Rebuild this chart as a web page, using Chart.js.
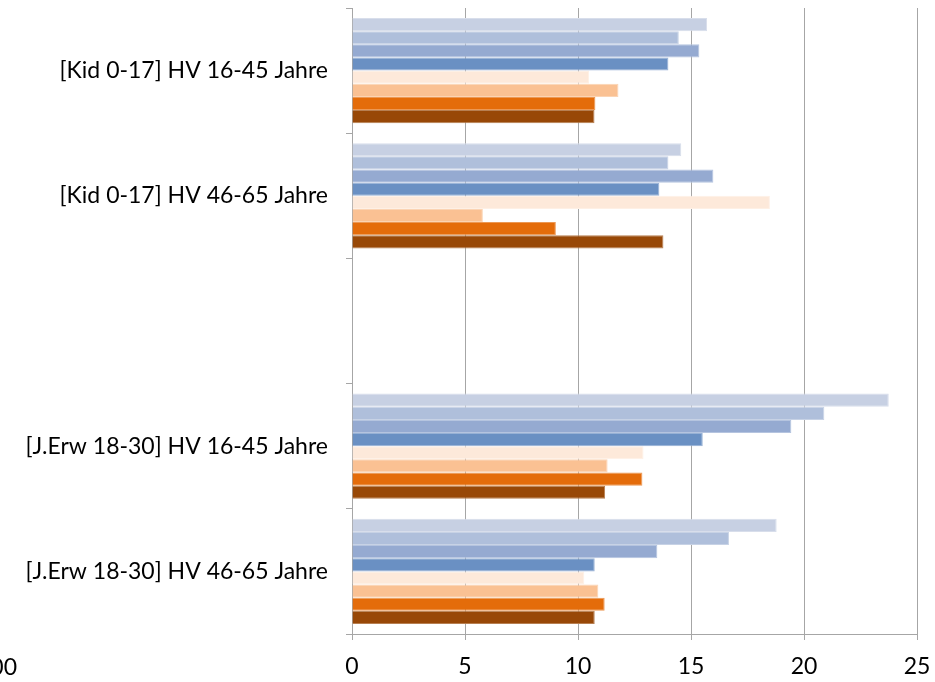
<!DOCTYPE html>
<html>
<head>
<meta charset="utf-8">
<script src="https://cdn.jsdelivr.net/npm/chart.js@4/dist/chart.umd.min.js"></script>
<style>
  html, body { margin: 0; padding: 0; background: #fff; overflow: hidden; }
  #wrap { position: relative; width: 935px; height: 682px; overflow: hidden; }
  #cut { position: absolute; right: 918px; top: 653px; font: 23px Lato, "Open Sans", sans-serif; line-height: 27.6px; color: #000; white-space: nowrap; }
</style>
</head>
<body>
<div id="wrap">
  <canvas id="c" width="935" height="682"></canvas>
  <div id="cut">100</div>
</div>
<script>
const categories = [
  '[Kid 0-17] HV 16-45 Jahre',
  '[Kid 0-17] HV 46-65 Jahre',
  '',
  '[J.Erw 18-30] HV 16-45 Jahre',
  '[J.Erw 18-30] HV 46-65 Jahre'
];
const seriesNames = ['Serie 1', 'Serie 2', 'Serie 3', 'Serie 4', 'Serie 5', 'Serie 6', 'Serie 7', 'Serie 8'];
const s1 = [15.71, 14.57, null, 23.75, 18.79];
const s2 = [14.46, 14.00, null, 20.90, 16.68];
const s3 = [15.37, 15.99, null, 19.44, 13.51];
const s4 = [14.00, 13.60, null, 15.52, 10.74];
const s5 = [10.49, 18.49, null, 12.90, 10.28];
const s6 = [11.79, 5.79, null, 11.31, 10.90];
const s7 = [10.77, 9.02, null, 12.85, 11.18];
const s8 = [10.73, 13.78, null, 11.20, 10.74];
const xTicks = [0, 5, 10, 15, 20, 25];

const colors = ['#C7D0E3', '#AFBFDB', '#95AAD1', '#6A90C3', '#FDE9DA', '#FAC193', '#E46C0A', '#984807'];
const edgeColors = ['#D8DEEB', '#C7D2E5', '#B5C4DF', '#97B1D5', '#FEF0E5', '#FBD4B4', '#EC9854', '#B77F51'];
const seriesData = [s1, s2, s3, s4, s5, s6, s7, s8];

const FONT = { family: 'Lato, "Open Sans", sans-serif', size: 23 };

new Chart(document.getElementById('c'), {
  type: 'bar',
  data: {
    labels: categories,
    datasets: seriesData.map((d, i) => ({
      label: seriesNames[i],
      data: d,
      backgroundColor: colors[i],
      borderColor: edgeColors[i],
      borderWidth: 1,
      categoryPercentage: 0.84,
      barPercentage: 1.0
    }))
  },
  options: {
    indexAxis: 'y',
    responsive: false,
    animation: false,
    devicePixelRatio: 1,
    layout: { padding: { left: 0, right: 18, top: 8, bottom: 0 } },
    plugins: { legend: { display: false }, tooltip: { enabled: false } },
    scales: {
      x: {
        min: xTicks[0],
        max: xTicks[xTicks.length - 1],
        afterBuildTicks: (axis) => { axis.ticks = xTicks.map(v => ({ value: v })); },
        ticks: { color: '#000', font: FONT, padding: 13, maxRotation: 0 },
        grid: { color: '#A6A6A6', lineWidth: 1, tickLength: 6, drawTicks: true },
        border: { display: true, color: '#A6A6A6', width: 1 },
        afterFit: (axis) => { axis.height = 48; axis.paddingLeft = 0; axis.paddingRight = 0; }
      },
      y: {
        ticks: { color: '#000', font: FONT, padding: 18, autoSkip: false },
        grid: { offset: true, drawOnChartArea: false, color: '#A6A6A6', tickLength: 6 },
        border: { display: true, color: '#A6A6A6', width: 1 },
        afterFit: (axis) => { axis.width = 352; axis.paddingTop = 0; axis.paddingBottom = 0; }
      }
    }
  }
});
</script>
</body>
</html>
